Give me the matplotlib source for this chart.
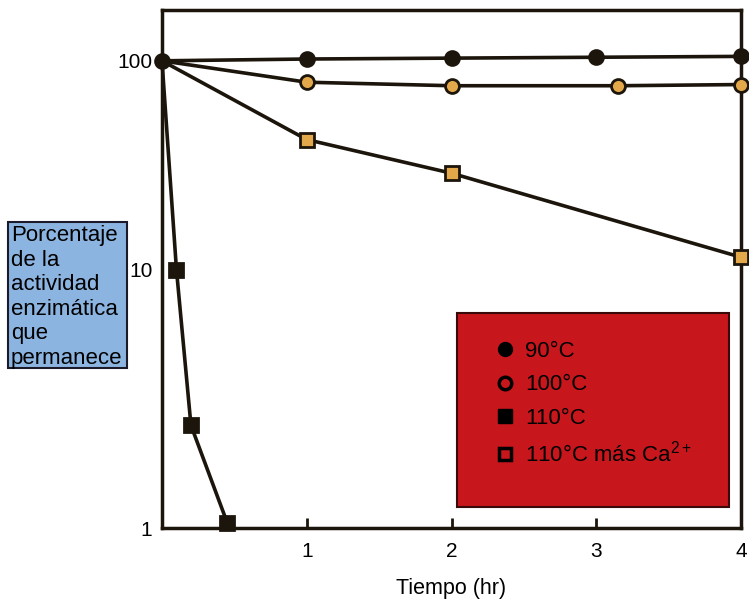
import numpy as np
import matplotlib
matplotlib.use("Agg")
import matplotlib.pyplot as plt
from matplotlib.patches import Rectangle
from matplotlib.lines import Line2D

plt.rcParams['font.family'] = ['Liberation Sans', 'DejaVu Sans']
plt.rcParams['mathtext.fontset'] = 'custom'
plt.rcParams['mathtext.rm'] = 'Liberation Sans'
plt.rcParams['mathtext.default'] = 'rm'

# data (tiempo en horas, % actividad)
t_90 = [0, 1, 2, 3, 4]
act_90 = [100, 102, 103, 104, 105]
t_100 = [0, 1, 2, 3.15, 4]
act_100 = [100, 79, 76, 76, 77]
t_110 = [0, 0.1, 0.2, 0.45]
act_110 = [100, 10, 2.5, 1.05]
t_110ca = [0, 1, 2, 4]
act_110ca = [100, 42, 29, 11.5]

labels = ['90°C', '100°C', '110°C', '110°C más Ca$^{2+}$']
x_ticks = [1, 2, 3, 4]
y_ticks = [1, 10, 100]

ink = '#1c150c'
tan = '#e2a84a'

# the printed axis is hand drawn: the 1-10 decade is taller than 10-100
k = 258 / 209


def fwd(y):
    lg = np.log10(np.clip(y, 1e-6, None))
    return np.where(lg < 1, lg * k, k + (lg - 1))


def inv(v):
    return np.where(v < k, 10 ** (v / k), 10 ** (v - k + 1))


fig = plt.figure(figsize=(7.49, 6.03), dpi=100)
ax = fig.add_axes([162 / 749, 75 / 603, 579 / 749, 518 / 603])
ax.set_yscale('function', functions=(fwd, inv))

style = dict(color=ink, lw=2.6, markersize=10, markeredgewidth=2,
             markeredgecolor=ink, clip_on=False, zorder=3)
# the shared starting point is only drawn once (black circle)
ax.plot(t_110, act_110, marker='s', markerfacecolor=ink, markevery=slice(1, None), **style)
ax.plot(t_110ca, act_110ca, marker='s', markerfacecolor=tan, markevery=slice(1, None), **style)
ax.plot(t_100, act_100, marker='o', markerfacecolor=tan, markevery=slice(1, None), **style)
ax.plot(t_90, act_90, marker='o', markerfacecolor=ink, **style)

ax.set_xlim(0, 4)
ax.set_ylim(1, 175)
ax.set_xticks(x_ticks)
ax.set_xticklabels([str(v) for v in x_ticks], fontsize=15)
ax.set_yticks(y_ticks)
ax.set_yticklabels([str(v) for v in y_ticks], fontsize=15)
ax.yaxis.set_minor_locator(matplotlib.ticker.NullLocator())
ax.tick_params(axis='x', direction='in', length=7, width=2, color=ink, pad=10)
ax.tick_params(axis='y', length=0, pad=7)
for s in ax.spines.values():
    s.set_color(ink)
    s.set_linewidth(2.5)
ax.set_xlabel('Tiempo (hr)', fontsize=15.5, labelpad=12)

# red legend panel
ax.add_patch(Rectangle((0.5095, 0.0405), 0.4695, 0.3745, transform=ax.transAxes,
                       facecolor='#c8161d', edgecolor='#3a0a08', lw=1.5, zorder=4))
handles = [
    Line2D([], [], ls='none', marker='o', markersize=10, color='black'),
    Line2D([], [], ls='none', marker='o', markersize=9, markerfacecolor='none',
           markeredgecolor='black', markeredgewidth=2.5),
    Line2D([], [], ls='none', marker='s', markersize=10, color='black'),
    Line2D([], [], ls='none', marker='s', markersize=9, markerfacecolor='none',
           markeredgecolor='black', markeredgewidth=2.5),
]
leg = ax.legend(handles, labels, loc='upper left', bbox_to_anchor=(0.56, 0.378),
                frameon=False, fontsize=16, labelspacing=0.55, handlelength=0.9,
                handletextpad=0.45, borderaxespad=0)
leg.set_zorder(5)

# blue y-label box
fig.add_artist(Rectangle((8 / 749, 1 - 368 / 603), 119 / 749, 146 / 603,
                         transform=fig.transFigure, facecolor='#8cb4e0',
                         edgecolor='#1a1a2a', lw=1.5))
fig.text(11 / 749, 1 - 225 / 603,
         'Porcentaje\nde la\nactividad\nenzimática\nque\npermanece',
         fontsize=16, va='top', ha='left', linespacing=1.22)

fig.savefig('out.png', dpi=100)
